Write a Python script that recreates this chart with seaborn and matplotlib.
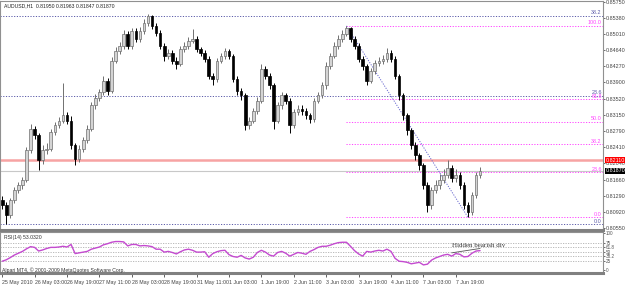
import numpy as np
import pandas as pd
import matplotlib
matplotlib.use("Agg")
import matplotlib.pyplot as plt
import matplotlib.transforms as mtransforms
import seaborn as sns

# ---------------- data ----------------
title_text = "AUDUSD,H1  0.81950 0.81963 0.81847 0.81870"
rsi_title = "RSI(14) 53.0320"
copyright_text = "Alpari MT4, \u00a9 2001-2009 MetaQuotes Software Corp."
div_text = "Hidden bearish div"

bar_hours = 2
first_open = 0.8120
close = [0.8108, 0.8085, 0.8119, 0.8142, 0.8154, 0.8165, 0.8234, 0.8284, 0.8268, 0.8211,
         0.8234, 0.8238, 0.8275, 0.8291, 0.8302, 0.8314, 0.8302,
         0.8245, 0.8215, 0.8238, 0.8257, 0.8284, 0.8337, 0.8355, 0.8367, 0.8394, 0.8371,
         0.8440, 0.8463, 0.8474, 0.8502, 0.8474, 0.8509, 0.8490, 0.8509, 0.8527, 0.8543,
         0.8520, 0.8504, 0.8474, 0.8451, 0.8458, 0.8440, 0.8433, 0.8467, 0.8474, 0.8486,
         0.8490, 0.8467, 0.8458, 0.8444, 0.8405, 0.8399, 0.8440, 0.8451, 0.8463, 0.8451,
         0.8399, 0.8371, 0.8360, 0.8291, 0.8302, 0.8325, 0.8348, 0.8422, 0.8405, 0.8383,
         0.8302, 0.8337, 0.8360, 0.8348, 0.8291, 0.8321, 0.8330, 0.8325, 0.8314, 0.8307,
         0.8348, 0.8360, 0.8383, 0.8428, 0.8451, 0.8474, 0.8490, 0.8502, 0.8515, 0.8490,
         0.8474, 0.8444, 0.8428, 0.8394, 0.8417, 0.8435, 0.8440,
         0.8444, 0.8458, 0.8444, 0.8405, 0.8360, 0.8314, 0.8280, 0.8245, 0.8222, 0.8199,
         0.8154, 0.8108, 0.8142, 0.8154, 0.8165, 0.8177, 0.8193, 0.8170, 0.8177, 0.8154,
         0.8108, 0.8092, 0.8131, 0.8177, 0.8187]
high = [0.8128, 0.8114, 0.8125, 0.8150, 0.8162, 0.8172, 0.8242, 0.8294, 0.8290, 0.8274,
        0.8245, 0.8250, 0.8282, 0.8298, 0.8310, 0.8389, 0.8322,
        0.8312, 0.8250, 0.8246, 0.8264, 0.8292, 0.8345, 0.8364, 0.8375, 0.8404, 0.8400,
        0.8448, 0.8471, 0.8482, 0.8510, 0.8508, 0.8516, 0.8515, 0.8518, 0.8535, 0.8547,
        0.8546, 0.8526, 0.8510, 0.8480, 0.8466, 0.8464, 0.8448, 0.8474, 0.8482, 0.8494,
        0.8512, 0.8496, 0.8472, 0.8464, 0.8450, 0.8412, 0.8446, 0.8458, 0.8470, 0.8468,
        0.8456, 0.8405, 0.8378, 0.8366, 0.8310, 0.8332, 0.8356, 0.8433, 0.8428, 0.8412,
        0.8388, 0.8344, 0.8368, 0.8366, 0.8354, 0.8328, 0.8338, 0.8338, 0.8332, 0.8320,
        0.8355, 0.8368, 0.8390, 0.8436, 0.8458, 0.8482, 0.8498, 0.8510, 0.8520, 0.8518,
        0.8496, 0.8480, 0.8450, 0.8432, 0.8424, 0.8442, 0.8448,
        0.8452, 0.8470, 0.8464, 0.8450, 0.8410, 0.8366, 0.8320, 0.8286, 0.8252, 0.8228,
        0.8205, 0.8160, 0.8150, 0.8165, 0.8180, 0.8190, 0.8211, 0.8200, 0.8190, 0.8185,
        0.8160, 0.8115, 0.8138, 0.8184, 0.8196]
low = [0.8098, 0.8064, 0.8078, 0.8112, 0.8135, 0.8146, 0.8160, 0.8228, 0.8260, 0.8188,
       0.8203, 0.8226, 0.8232, 0.8268, 0.8285, 0.8296, 0.8295,
       0.8238, 0.8199, 0.8208, 0.8230, 0.8250, 0.8278, 0.8330, 0.8348, 0.8360, 0.8362,
       0.8365, 0.8434, 0.8456, 0.8468, 0.8466, 0.8468, 0.8482, 0.8484, 0.8502, 0.8520,
       0.8512, 0.8496, 0.8466, 0.8440, 0.8444, 0.8432, 0.8422, 0.8428, 0.8460, 0.8468,
       0.8480, 0.8460, 0.8450, 0.8436, 0.8398, 0.8383, 0.8392, 0.8434, 0.8445, 0.8444,
       0.8392, 0.8362, 0.8350, 0.8280, 0.8284, 0.8296, 0.8318, 0.8342, 0.8398, 0.8376,
       0.8284, 0.8296, 0.8330, 0.8340, 0.8273, 0.8285, 0.8314, 0.8316, 0.8306, 0.8296,
       0.8300, 0.8342, 0.8354, 0.8376, 0.8422, 0.8446, 0.8468, 0.8484, 0.8496, 0.8482,
       0.8466, 0.8436, 0.8418, 0.8383, 0.8388, 0.8410, 0.8428,
       0.8432, 0.8438, 0.8436, 0.8398, 0.8350, 0.8304, 0.8270, 0.8236, 0.8212, 0.8188,
       0.8144, 0.8092, 0.8100, 0.8135, 0.8146, 0.8158, 0.8170, 0.8160, 0.8162, 0.8145,
       0.8098, 0.8080, 0.8086, 0.8124, 0.8170]
rsi = [24, 28, 34, 41, 46, 51, 58, 64, 62, 52, 55, 59, 62, 62, 63, 65, 63,
       70, 45, 47, 49, 51, 57, 60, 63, 69, 72, 76, 78, 78, 77, 66, 70, 70, 66, 67,
       66, 64, 57, 57, 49, 51, 48, 44, 50, 55, 57, 54, 49, 49, 50, 35, 45, 50, 53,
       54, 42, 37, 35, 40, 33, 30, 35, 48, 54, 49, 41, 38, 48, 51, 46, 38, 43, 48,
       46, 43, 51, 56, 62, 65, 65, 68, 72, 75, 76, 76, 65, 53, 44, 38, 51, 49, 52, 54,
       52, 57, 51, 32, 24, 23, 21, 17, 19, 21, 14, 16, 27, 33, 37, 41, 43, 38, 45,
       43, 36, 37, 46, 52, 53]

time_labels = ["25 May 2010", "26 May 03:00", "26 May 19:00", "27 May 11:00", "28 May 03:00",
               "28 May 19:00", "31 May 11:00", "1 Jun 03:00", "1 Jun 19:00", "2 Jun 11:00",
               "3 Jun 03:00", "3 Jun 19:00", "4 Jun 11:00", "7 Jun 03:00", "7 Jun 19:00"]
label_every_hours = 16
price_ticks = [0.85750, 0.85380, 0.85010, 0.84640, 0.84270, 0.83900, 0.83520, 0.83150,
               0.82790, 0.82410, 0.82040, 0.81660, 0.81290, 0.80920, 0.80550]

fib_levels = [0.0, 23.6, 38.2, 50.0, 61.8, 100.0]
fib_pink_low, fib_pink_high = 0.8080, 0.8520
fib_blue_low, fib_blue_high = 0.8064, 0.9318
fib_pink_bars = [85, 115]          # swing high bar -> swing low bar
resistance_price = 0.8211
resistance_label = "0.82110"
last_price = 0.8187
last_label = "0.81870"
rsi_levels = [75, 61.8, 50, 38.2, 25]
rsi_axis_labels = [100, 75, 61.8, 50, 38.2, 25, 0]
div_bars = [111, 118]
div_values = [47, 59]

assert len(close) == len(high) == len(low) == len(rsi)

# ---------------- style ----------------
sns.set_theme(style="white")
plt.rcParams['font.family'] = ['Liberation Sans', 'DejaVu Sans']
plt.rcParams['axes.linewidth'] = 0.8

W, H = 625, 287
fig = plt.figure(figsize=(W / 100, H / 100), dpi=100)
fig.patch.set_facecolor('white')


def box(x0, y0, x1, y1):
    return [x0 / W, 1 - y1 / H, (x1 - x0) / W, (y1 - y0) / H]


AX_RIGHT = 603
ax = fig.add_axes(box(0, 1, AX_RIGHT, 230))
axr = fig.add_axes(box(0, 232, AX_RIGHT, 273))

n = len(close)
hours = np.arange(n) * bar_hours
opens = np.r_[first_open, close[:-1]]
df = pd.DataFrame(dict(hour=hours, open=opens, high=high, low=low, close=close, rsi=rsi))
df['bull'] = df['close'] >= df['open']

px_per_hour = 2.025
xmin = -2.2 / px_per_hour
xmax = xmin + AX_RIGHT / px_per_hour
right_end = xmax - 0.6
small = 3.9

# horizontal lines (behind candles)
ax.axhline(resistance_price, color='#f7a3a3', lw=1.8, zorder=1)
ax.axhline(last_price, color='#c8c8c8', lw=0.8, zorder=1)

tr_ax = mtransforms.blended_transform_factory(ax.transAxes, ax.transData)
ylo, yhi = 0.80506, 0.85773

for lv in fib_levels:
    p = fib_blue_low + lv / 100 * (fib_blue_high - fib_blue_low)
    if ylo < p < yhi:
        ax.axhline(p, color='#5a5aa8', lw=0.7, ls=(0, (1.2, 1.6)), zorder=1)
        ax.text(right_end, p + 0.0001, f"{lv:.1f}", color='#5a5aa8', fontsize=small,
                ha='right', va='bottom', zorder=5)

x_pink0 = df['hour'].iloc[fib_pink_bars[0]]
x_pink1 = df['hour'].iloc[fib_pink_bars[1]]
for lv in fib_levels:
    p = fib_pink_low + lv / 100 * (fib_pink_high - fib_pink_low)
    ax.hlines(p, x_pink0, right_end + 0.4, color='#ff44ff', lw=0.7, ls=(0, (1.2, 1.6)), zorder=1)
    ax.text(right_end, p + 0.0001, f"{lv:.1f}", color='#ff44ff', fontsize=small,
            ha='right', va='bottom', zorder=5)

diag = pd.DataFrame({'hour': [x_pink0, x_pink1], 'price': [fib_pink_high, fib_pink_low]})
sns.lineplot(data=diag, x='hour', y='price', ax=ax, color='#6a6ad0', lw=0.7,
             linestyle=(0, (1.2, 1.4)), zorder=2)

# candles
for bull, sub in df.groupby('bull'):
    edge = '#707070' if bull else '#000000'
    face = '#d4d4d4' if bull else '#000000'
    ax.vlines(sub['hour'], sub['low'], sub['high'], color=edge, lw=0.7, zorder=3)
    body = (sub['close'] - sub['open']).abs().clip(lower=0.00008)
    ax.bar(sub['hour'], body, bottom=np.minimum(sub['open'], sub['close']), width=1.3,
           color=face, edgecolor=edge, linewidth=0.5, zorder=4)

ax.set_xlim(xmin, xmax)
ax.set_ylim(ylo, yhi)
ax.set_xlabel('')
ax.set_ylabel('')
ax.set_xticks([])
ax.yaxis.tick_right()
ax.set_yticks(price_ticks)
ax.set_yticklabels([f"{v:.5f}" for v in price_ticks])
ax.tick_params(axis='y', which='both', right=True, length=1.5, width=0.6, pad=0.5,
               labelsize=small, colors='#555555', direction='out')
for lbl in ax.get_yticklabels():
    lbl.set_color('#444444')

for s in ['top', 'right', 'left']:
    ax.spines[s].set_color('#909090')
    ax.spines[s].set_linewidth(0.8)
ax.spines['bottom'].set_color('#808080')
ax.spines['bottom'].set_linewidth(2.2)

# price boxes on the right axis
for price, label, col in [(resistance_price, resistance_label, '#ff0000'),
                          (last_price, last_label, '#000000')]:
    ax.text(1.004, price, label, transform=tr_ax, fontsize=small, color='white',
            ha='left', va='center', clip_on=False, zorder=10,
            bbox=dict(boxstyle='square,pad=0.12', fc=col, ec='none'))

fig.text(4 / W, 1 - 6 / H, title_text, fontsize=3.7, color='#222222', ha='left', va='center')

# ---------------- RSI panel ----------------
for lv in rsi_levels:
    axr.axhline(lv, color='#b0b0b0', lw=0.6, ls=(0, (1.5, 1.5)), zorder=1)
sns.lineplot(data=df, x='hour', y='rsi', ax=axr, color='#c44ad0', lw=1.0, zorder=3)
div = pd.DataFrame({'hour': [df['hour'].iloc[div_bars[0]], df['hour'].iloc[div_bars[1]]],
                    'v': div_values})
sns.lineplot(data=div, x='hour', y='v', ax=axr, color='#555555', lw=0.6, zorder=4)
axr.text(235.5, 68, div_text, fontsize=5, family=['Liberation Serif', 'DejaVu Serif'],
         color='#333333', ha='center', va='center', zorder=5)
axr.text(0.007, 0.86, rsi_title, transform=axr.transAxes, fontsize=3.7, color='#333333',
         ha='left', va='center')
axr.text(0.004, 0.08, copyright_text, transform=axr.transAxes, fontsize=3.7, color='#333333',
         ha='left', va='center')

axr.set_xlim(xmin, xmax)
axr.set_ylim(-8.2, 104.1)
axr.set_xlabel('')
axr.set_ylabel('')
axr.yaxis.tick_right()
axr.set_yticks(rsi_axis_labels)
axr.set_yticklabels([f"{v:g}" for v in rsi_axis_labels])
axr.tick_params(axis='y', right=True, length=1.5, width=0.6, pad=0.5, labelsize=3.3,
                colors='#555555', direction='out')
tick_hours = np.arange(len(time_labels)) * label_every_hours
axr.set_xticks(tick_hours)
axr.set_xticklabels(time_labels)
axr.tick_params(axis='x', bottom=True, length=3, width=0.6, pad=1.8, labelsize=3.8,
                colors='#444444', direction='out')
for lbl in axr.get_xticklabels():
    lbl.set_horizontalalignment('left')
for s in ['top', 'right', 'left']:
    axr.spines[s].set_color('#909090')
    axr.spines[s].set_linewidth(0.8)
axr.spines['bottom'].set_color('#808080')
axr.spines['bottom'].set_linewidth(2.2)

fig.savefig('out.png', dpi=100, facecolor='white')
